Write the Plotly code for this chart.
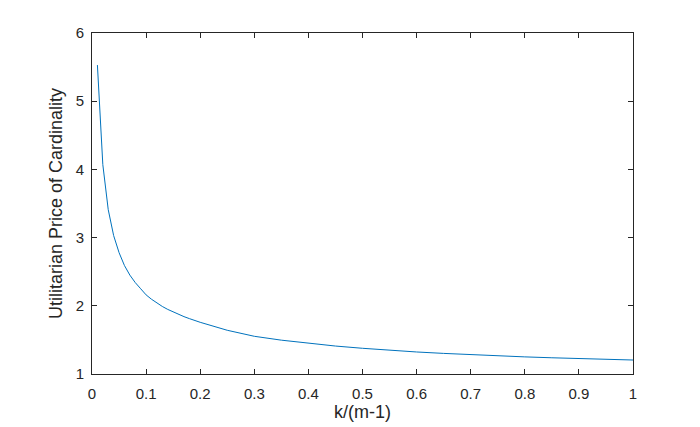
import plotly.graph_objects as go

# k/(m-1) values and estimated Utilitarian Price of Cardinality
x_vals = [0.01, 0.02, 0.03, 0.04, 0.05, 0.06, 0.07, 0.08, 0.09, 0.10,
          0.11, 0.12, 0.13, 0.14, 0.15, 0.16, 0.17, 0.18, 0.19, 0.20,
          0.25, 0.30, 0.35, 0.40, 0.45, 0.50, 0.55,
          0.60, 0.65, 0.70, 0.75, 0.80, 0.85, 0.90, 0.95, 1.00]
y_vals = [5.53, 4.07, 3.41, 3.03, 2.78, 2.59, 2.45, 2.34, 2.25, 2.16,
          2.096, 2.04, 1.99, 1.947, 1.908, 1.873, 1.841, 1.812, 1.784, 1.758,
          1.641, 1.553, 1.496, 1.450, 1.410, 1.377, 1.348,
          1.323, 1.302, 1.283, 1.266, 1.251, 1.238, 1.226, 1.215, 1.205]

x_ticks = [0, 0.1, 0.2, 0.3, 0.4, 0.5, 0.6, 0.7, 0.8, 0.9, 1]
x_tick_labels = ["0", "0.1", "0.2", "0.3", "0.4", "0.5", "0.6", "0.7", "0.8", "0.9", "1"]
y_ticks = [1, 2, 3, 4, 5, 6]
y_tick_labels = ["1", "2", "3", "4", "5", "6"]

axis_color = "#262626"
font_family = "Arial, Liberation Sans, Helvetica, sans-serif"

fig = go.Figure()
fig.add_trace(go.Scatter(x=x_vals, y=y_vals, mode="lines",
                         line=dict(color="#0072BD", width=1)))

common = dict(showline=True, linecolor=axis_color, linewidth=1, mirror="ticks",
              ticks="inside", ticklen=5, tickcolor=axis_color, tickwidth=1,
              showgrid=False, zeroline=False,
              tickfont=dict(family=font_family, size=15, color=axis_color))

# page body adds an 8px offset, so the figure is sized to fit the 700x427 window
fig.update_layout(
    width=692, height=419,
    margin=dict(l=83.5, r=67, t=25, b=53, autoexpand=False),
    paper_bgcolor="white", plot_bgcolor="white",
    showlegend=False,
    xaxis=dict(range=[0, 1], tickvals=x_ticks, ticktext=x_tick_labels,
               ticklabelstandoff=6,
               title=dict(text="k/(m-1)", standoff=4,
                          font=dict(family=font_family, size=18, color=axis_color)),
               **common),
    yaxis=dict(range=[1, 6], tickvals=y_ticks, ticktext=y_tick_labels,
               ticklabelstandoff=4,
               title=dict(text="Utilitarian Price of Cardinality", standoff=8,
                          font=dict(family=font_family, size=18, color=axis_color)),
               **common),
)

fig.write_html("out.html")
